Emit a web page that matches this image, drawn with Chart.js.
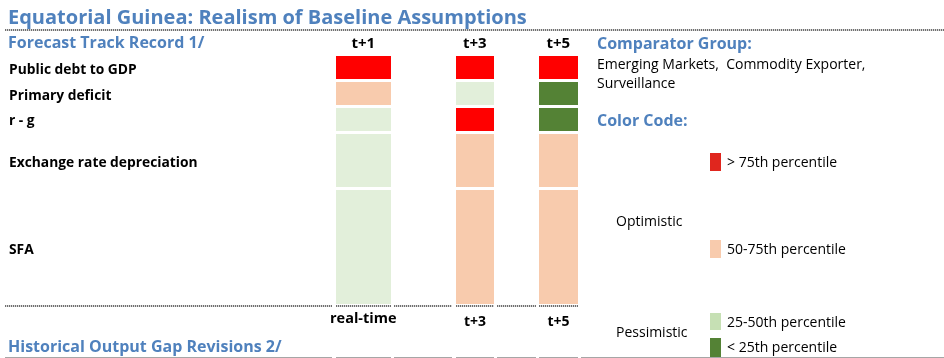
<!DOCTYPE html>
<html>
<head>
<meta charset="utf-8">
<script src="https://cdn.jsdelivr.net/npm/chart.js@4"></script>
<style>
  html, body { margin: 0; padding: 0; background: #fff; }
  #page { position: relative; width: 944px; height: 358px; overflow: hidden; font-family: "Open Sans", sans-serif; }
  #cells { position: absolute; left: 0; top: 0; }
  .t { position: absolute; white-space: pre; line-height: 1; }
  .blue { color: #4F81BD; font-weight: bold; }
  .b { color: #000; font-weight: bold; }
  .n { color: #000; }
  .dots { position: absolute; height: 2px; background: repeating-linear-gradient(90deg, #707070 0 1px, #d8d8d8 1px 2px); }
  .grey { position: absolute; height: 1px; background: #a6a6a6; }
  .sw { position: absolute; width: 11px; }
</style>
</head>
<body>
<div id="page">
  <canvas id="cells" width="944" height="358"></canvas>
</div>
<script>
// forecast track record, one band code per variable and horizon
// 3 = above 75th percentile, 2 = 50-75th, 1 = 25-50th, 0 = below 25th
const rowLabels = ["Public debt to GDP", "Primary deficit", "r - g", "Exchange rate depreciation", "SFA"];
const horizons = ["t+1", "t+3", "t+5"];
const bandT1 = [3, 2, 1, 1, 1];
const bandT3 = [3, 1, 3, 2, 2];
const bandT5 = [3, 0, 0, 2, 2];
const bandLabels = ["< 25th percentile", "25-50th percentile", "50-75th percentile", "> 75th percentile"];
const bottomHeads = ["real-time", "t+3", "t+5"];

// sheet layout (px)
const cellColors = ["#548235", "#E2EFDA", "#F8CBAD", "#FF0000"];
const swatchColors = ["#548235", "#C6E0B4", "#F8CBAD", "#E0261E"];
const colCenter = [363.5, 475, 558.5];
const colWidth = [55, 38, 39];
const rowTop = [56, 82, 108, 134, 190];
const rowBottom = [79, 105, 131, 187, 304];
const labelBase = [74, 100, 125, 167, 254];

const page = document.getElementById("page");
function put(text, x, base, size, cls, center) {
  let d = document.createElement("div");
  d.className = "t " + cls;
  d.style.fontSize = size + "px";
  d.style.top = (base - 0.888 * size) + "px";
  d.textContent = text;
  page.appendChild(d);
  if (center) d.style.left = (x - d.offsetWidth / 2) + "px";
  else d.style.left = x + "px";
  return d;
}
function line(cls, x0, x1, y) {
  let d = document.createElement("div");
  d.className = cls;
  d.style.left = x0 + "px";
  d.style.width = (x1 - x0) + "px";
  d.style.top = y + "px";
  page.appendChild(d);
}

// one floating-bar dataset per horizon, one bar per variable
const bands = [bandT1, bandT3, bandT5];
const datasets = horizons.map(function (h, c) {
  return {
    label: h,
    data: rowLabels.map((r, i) => ({ x: colCenter[c], y: [rowTop[i], rowBottom[i]] })),
    backgroundColor: bands[c].map(b => cellColors[b]),
    barThickness: colWidth[c],
    grouped: false,
    borderWidth: 0,
    inflateAmount: 0
  };
});

new Chart(document.getElementById("cells"), {
  type: "bar",
  data: { datasets: datasets },
  options: {
    responsive: false,
    animation: false,
    events: [],
    layout: { padding: 0 },
    plugins: { legend: { display: false }, tooltip: { enabled: false } },
    scales: {
      x: { type: "linear", min: 0, max: 944, offset: false, display: false },
      y: { type: "linear", min: 0, max: 358, reverse: true, display: false }
    }
  }
});

// headings and row labels
put("Equatorial Guinea: Realism of Baseline Assumptions", 8, 25, 20, "blue");
line("dots", 5, 944, 29);
put("Forecast Track Record 1/", 8, 48, 16, "blue");
horizons.forEach((h, c) => put(h, colCenter[c], 48, 15, "b", true));
rowLabels.forEach((r, i) => put(r, 9, labelBase[i], 13.8, "b"));

// cell borders under the block
[[5, 332], [336, 391], [394, 452], [456, 494], [497, 536], [539, 578]].forEach(s => line("dots", s[0], s[1], 305));
bottomHeads.forEach((h, c) => put(h, colCenter[c], c == 0 ? 324 : 326, c == 0 ? 14.5 : 14, "b", true));
put("Historical Output Gap Revisions 2/", 8, 352, 16, "blue");
[[5, 332], [336, 391], [394, 452], [456, 494], [497, 536], [539, 578], [581, 944]].forEach(s => line("grey", s[0], s[1], 357));

// comparator group and colour key
put("Comparator Group:", 597, 49, 16, "blue");
put("Emerging Markets,  Commodity Exporter,", 597, 69, 14, "n");
put("Surveillance", 597, 88, 14, "n");
put("Color Code:", 597, 126, 16, "blue");
put("Optimistic", 616, 226, 14, "n");
put("Pessimistic", 616, 337, 14, "n");
const swTop = [338, 313, 240, 153];
const swBottom = [357, 330, 258, 171];
const keyBase = [352, 327, 254, 167];
bandLabels.forEach(function (lab, b) {
  let s = document.createElement("div");
  s.className = "sw";
  s.style.left = "710px";
  s.style.top = swTop[b] + "px";
  s.style.height = (swBottom[b] - swTop[b]) + "px";
  s.style.background = swatchColors[b];
  page.appendChild(s);
  put(lab, 727, keyBase[b], 14, "n");
});
</script>
</body>
</html>
